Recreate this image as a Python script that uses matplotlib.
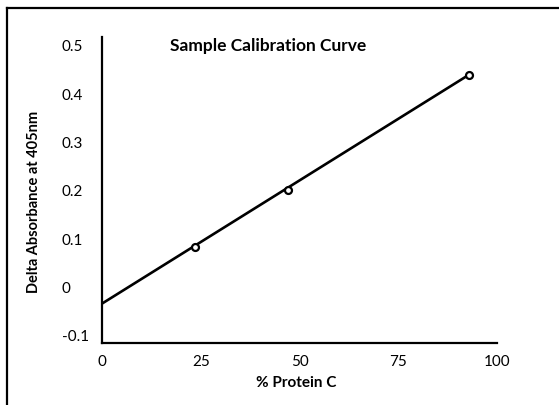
import matplotlib.pyplot as plt
from matplotlib.lines import Line2D

# data
protein_pct = [23.5, 47, 93]
delta_abs = [0.085, 0.203, 0.441]
fit_x = [0, 93]
fit_y = [-0.033, 0.441]
x_ticks = [0, 25, 50, 75, 100]
y_ticks = [-0.1, 0, 0.1, 0.2, 0.3, 0.4, 0.5]
y_labels = ['-0.1', '0', '0.1', '0.2', '0.3', '0.4', '0.5']

plt.rcParams['font.family'] = ['Lato', 'DejaVu Sans']

fig = plt.figure(figsize=(5.59, 4.05), dpi=100)
ax = fig.add_axes([102 / 559, 1 - 343 / 405, 395 / 559, 306 / 405])

ax.plot(fit_x, fit_y, color='black', lw=1.9, zorder=2)
ax.plot(protein_pct, delta_abs, 'o', ms=5, mfc='white', mec='black', mew=1.6, zorder=3)

ax.set_xlim(0, 100)
ax.set_ylim(-0.1145, 0.5186)
ax.set_xticks(x_ticks)
ax.set_xticklabels([str(t) for t in x_ticks])
ax.set_yticks(y_ticks)
ax.set_yticklabels(y_labels)
for lab in ax.get_yticklabels():
    lab.set_horizontalalignment('left')
ax.tick_params(axis='y', length=0, pad=28.8, labelsize=11)
ax.tick_params(axis='x', length=0, pad=9, labelsize=11)

for s in ['top', 'right']:
    ax.spines[s].set_visible(False)
for s in ['left', 'bottom']:
    ax.spines[s].set_linewidth(1.6)
    ax.spines[s].set_color('black')

ax.text(0.42, 1 - (46 - 37) / 306, 'Sample Calibration Curve', transform=ax.transAxes,
        ha='center', va='center', fontsize=12.5, fontweight='bold')
fig.text(296 / 559, 1 - 383 / 405, '% Protein C', ha='center', va='center',
         fontsize=11, fontweight='bold')
fig.text(34 / 559, 1 - 202 / 405, 'Delta Absorbance at 405nm', ha='center', va='center',
         rotation=90, fontsize=10.5, fontweight='bold')

# outer frame (left and top edges only show)
fig.add_artist(Line2D([6.5 / 559, 6.5 / 559], [0, 1 - 7.5 / 405], color='black', lw=1.6,
                      transform=fig.transFigure))
fig.add_artist(Line2D([6.5 / 559, 1], [1 - 7.5 / 405, 1 - 7.5 / 405], color='black', lw=1.6,
                      transform=fig.transFigure))

fig.savefig('out.png', dpi=100)
